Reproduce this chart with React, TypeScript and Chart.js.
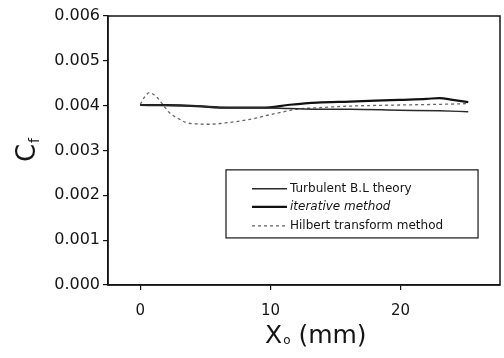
import React, { useEffect, useRef } from "react";
import { Chart, registerables } from "chart.js";

Chart.register(...registerables);

const xTicks = [0, 10, 20];
const yTicks = [0, 0.001, 0.002, 0.003, 0.004, 0.005, 0.006];

const turbX = [0, 4.3, 6.7, 9.4, 11.5, 13.6, 16.1, 19.9, 23.0, 25.2];
const turbY = [0.004015, 0.00399, 0.003955, 0.003955, 0.003935, 0.00392, 0.00392, 0.0039, 0.003885, 0.003866];

const iterX = [0, 2, 4.3, 6.7, 9.4, 11.5, 13.6, 16.1, 19.9, 22.0, 23.0, 24.0, 25.2];
const iterY = [0.004015, 0.00401, 0.00399, 0.003955, 0.003955, 0.00402, 0.004067, 0.00409, 0.00413, 0.00415, 0.00417, 0.00413, 0.00408];

const hilX = [0, 0.35, 0.7, 1.3, 1.8, 2.25, 3.0, 3.55, 4.5, 5.3, 6.7, 8.7, 10.0, 11.3, 12.0, 14.0, 16.1, 19.9, 23.0, 25.2];
const hilY = [0.00403, 0.0042, 0.00429, 0.00418, 0.004, 0.00384, 0.0037, 0.00362, 0.00359, 0.003585, 0.00362, 0.00371, 0.0038, 0.00388, 0.00392, 0.00396, 0.00399, 0.004015, 0.00403, 0.004045];

const seriesNames = ["Turbulent B.L theory", "iterative method", "Hilbert transform method"];

const pts = (xs: number[], ys: number[]) => xs.map((x, i) => ({ x, y: ys[i] }));

const INK = "#151515";
const FONT = "'DejaVu Sans', Arial, sans-serif";

const framePlugin = {
  id: "frame",
  afterDraw(chart: any) {
    const { ctx, chartArea: a } = chart;
    ctx.save();
    ctx.strokeStyle = INK;
    ctx.lineWidth = 1.5;
    ctx.strokeRect(a.left, a.top, a.right - a.left, a.bottom - a.top);

    // legend box
    const w = a.right - a.left;
    const h = a.bottom - a.top;
    const bx0 = a.left + 0.301 * w;
    const bx1 = a.left + 0.944 * w;
    const by0 = a.top + 0.572 * h;
    const by1 = a.top + 0.825 * h;
    ctx.lineWidth = 1.2;
    ctx.fillStyle = "#fff";
    ctx.fillRect(bx0, by0, bx1 - bx0, by1 - by0);
    ctx.strokeRect(bx0, by0, bx1 - bx0, by1 - by0);
    const ds = chart.data.datasets;
    const rowY = [by0 + 19, by0 + 37, by0 + 56];
    ds.forEach((d: any, i: number) => {
      ctx.beginPath();
      ctx.strokeStyle = d.borderColor;
      ctx.lineWidth = d.borderWidth;
      ctx.setLineDash(d.borderDash || []);
      ctx.moveTo(bx0 + 26, rowY[i]);
      ctx.lineTo(bx0 + 61, rowY[i]);
      ctx.stroke();
      ctx.setLineDash([]);
      ctx.fillStyle = INK;
      ctx.font = (i === 1 ? "italic " : "") + "12px " + FONT;
      ctx.textBaseline = "middle";
      ctx.textAlign = "left";
      ctx.fillText(d.label, bx0 + 64, rowY[i]);
    });

    // axis titles
    ctx.fillStyle = INK;
    ctx.textBaseline = "alphabetic";
    ctx.textAlign = "left";
    // x title: X_o (mm)
    const big = "25px " + FONT;
    const small = "12px " + FONT;
    ctx.font = big;
    const wX = ctx.measureText("X").width;
    ctx.font = small;
    const wo = ctx.measureText("o").width;
    let sx = 265;
    const by = 343;
    ctx.font = big;
    ctx.fillText("X", sx, by);
    sx += wX + 1;
    ctx.font = small;
    ctx.fillText("o", sx, by + 1);
    sx += wo;
    ctx.font = big;
    ctx.fillText(" (mm)", sx, by);

    // y title: C_f rotated
    ctx.save();
    ctx.translate(35, 153);
    ctx.rotate(-Math.PI / 2);
    ctx.font = "26px " + FONT;
    const wC = ctx.measureText("C").width;
    ctx.fillText("C", -wC / 2, 0);
    ctx.font = "14px " + FONT;
    ctx.fillText("f", wC / 2 + 1, 4);
    ctx.restore();
    ctx.restore();
  },
};

export default function App() {
  const ref = useRef<HTMLCanvasElement | null>(null);
  useEffect(() => {
    if (!ref.current) return;
    const chart = new Chart(ref.current, {
      type: "scatter",
      data: {
        datasets: [
          {
            label: seriesNames[0],
            data: pts(turbX, turbY),
            showLine: true,
            borderColor: "#2a2a2a",
            borderWidth: 1.5,
            pointRadius: 0,
            cubicInterpolationMode: "monotone",
          },
          {
            label: seriesNames[1],
            data: pts(iterX, iterY),
            showLine: true,
            borderColor: "#111",
            borderWidth: 2.2,
            pointRadius: 0,
            cubicInterpolationMode: "monotone",
          },
          {
            label: seriesNames[2],
            data: pts(hilX, hilY),
            showLine: true,
            borderColor: "#666",
            borderWidth: 1.3,
            borderDash: [3, 3],
            pointRadius: 0,
            cubicInterpolationMode: "monotone",
          },
        ],
      },
      options: {
        animation: false,
        responsive: false,
        maintainAspectRatio: false,
        layout: { padding: { left: 0, right: 4, top: 16, bottom: 0 } },
        plugins: { legend: { display: false }, tooltip: { enabled: false } },
        scales: {
          x: {
            type: "linear",
            min: -2.48,
            max: 27.64,
            afterBuildTicks: (axis: any) => {
              axis.ticks = xTicks.map((v) => ({ value: v }));
            },
            afterFit: (axis: any) => {
              axis.height = 73;
            },
            grid: { display: true, drawOnChartArea: false, drawTicks: true, tickLength: 5, color: INK, lineWidth: 1.2 },
            border: { display: true, color: INK, width: 1.5 },
            ticks: {
              color: INK,
              padding: 12,
              font: { family: FONT, size: 15 },
              callback: (v: any) => String(v),
            },
          },
          y: {
            type: "linear",
            min: 0,
            max: 0.006,
            afterBuildTicks: (axis: any) => {
              axis.ticks = yTicks.map((v) => ({ value: v }));
            },
            afterFit: (axis: any) => {
              axis.width = 108;
            },
            grid: { display: true, drawOnChartArea: false, drawTicks: true, tickLength: 5, color: INK, lineWidth: 1.2 },
            border: { display: true, color: INK, width: 1.5 },
            ticks: {
              color: INK,
              padding: 3,
              font: { family: FONT, size: 16 },
              callback: (v: any) => Number(v).toFixed(3),
            },
          },
        },
      } as any,
      plugins: [framePlugin],
    });
    return () => chart.destroy();
  }, []);
  return (
    <div style={{ position: "fixed", left: 0, top: 0, width: 504, height: 358, background: "#fff" }}>
      <canvas ref={ref} width={504} height={358} style={{ width: 504, height: 358, display: "block" }} />
    </div>
  );
}
